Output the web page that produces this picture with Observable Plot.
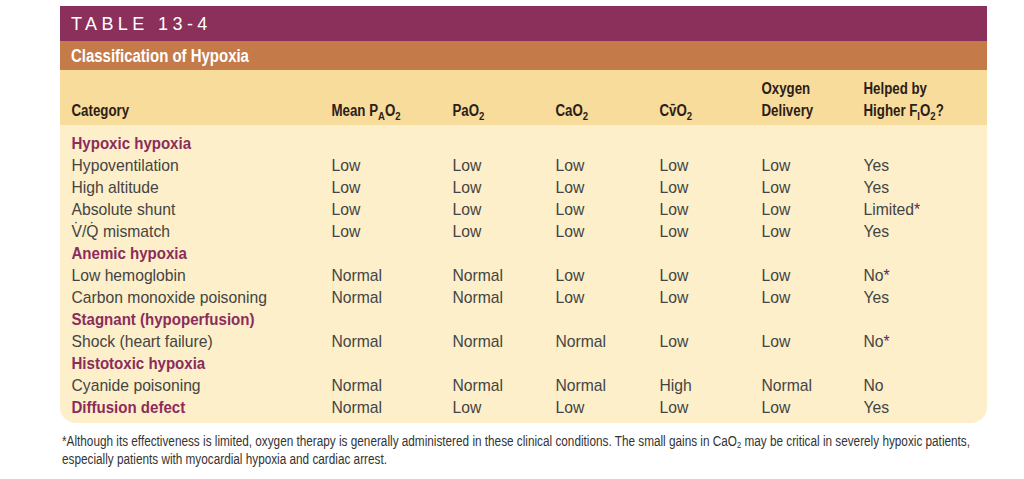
<!DOCTYPE html>
<html>
<head>
<meta charset="utf-8">
<script src="https://cdn.jsdelivr.net/npm/d3@7"></script>
<script src="https://cdn.jsdelivr.net/npm/@observablehq/plot@0.6"></script>
<style>
html,body{margin:0;padding:0;background:#fff;}
body{width:1024px;height:479px;position:relative;overflow:hidden;font-family:"Liberation Sans",Arial,sans-serif;}
.band{position:absolute;left:60px;width:927px;box-sizing:border-box;padding-left:11px;color:#fff;white-space:nowrap;}
#number{top:6px;height:35px;line-height:36px;background:#8b2f5b;font-size:18px;letter-spacing:4.4px;}
#title{top:41px;height:29px;line-height:30px;background:#c57a4a;font-weight:bold;font-size:17.5px;}
#title span{display:inline-block;transform:scaleX(0.855);transform-origin:0 50%;}
#chart{position:absolute;left:60px;top:70px;}
#note{position:absolute;left:62px;top:432px;font-size:14px;line-height:18px;color:#333;white-space:nowrap;}
#note span{display:inline-block;transform-origin:0 50%;}
#note sub{font-size:9px;vertical-align:-2px;line-height:0;}
</style>
</head>
<body>
<div id="number" class="band"></div>
<div id="title" class="band"><span></span></div>
<div id="chart"></div>
<div id="note"></div>
<script>
// ---------- data ----------
const tableNumber = "TABLE 13-4";
const tableTitle = "Classification of Hypoxia";
const columnLine1 = ["", "", "", "", "", "Oxygen", "Helped by"];
const columnLine2 = ["Category", "Mean P_AO_2", "PaO_2", "CaO_2", "Cv\u0304O_2", "Delivery", "Higher F_IO_2?"];
const categories = [
  "Hypoxic hypoxia", "Hypoventilation", "High altitude", "Absolute shunt", "V\u0307/Q\u0307 mismatch",
  "Anemic hypoxia", "Low hemoglobin", "Carbon monoxide poisoning",
  "Stagnant (hypoperfusion)", "Shock (heart failure)",
  "Histotoxic hypoxia", "Cyanide poisoning",
  "Diffusion defect"
];
const isGroupHeading = [true, false, false, false, false, true, false, false, true, false, true, false, true];
const meanPAO2      = ["", "Low", "Low", "Low", "Low", "", "Normal", "Normal", "", "Normal", "", "Normal", "Normal"];
const paO2          = ["", "Low", "Low", "Low", "Low", "", "Normal", "Normal", "", "Normal", "", "Normal", "Low"];
const caO2          = ["", "Low", "Low", "Low", "Low", "", "Low", "Low", "", "Normal", "", "Normal", "Low"];
const cvO2          = ["", "Low", "Low", "Low", "Low", "", "Low", "Low", "", "Low", "", "High", "Low"];
const oxygenDelivery= ["", "Low", "Low", "Low", "Low", "", "Low", "Low", "", "Low", "", "Normal", "Low"];
const helpedByFiO2  = ["", "Yes", "Yes", "Limited*", "Yes", "", "No*", "Yes", "", "No*", "", "No", "Yes"];
const footnote = [
  "*Although its effectiveness is limited, oxygen therapy is generally administered in these clinical conditions. The small gains in CaO_2 may be critical in severely hypoxic patients,",
  "especially patients with myocardial hypoxia and cardiac arrest."
];

// ---------- styles ----------
const FONT = '"Liberation Sans",Arial,sans-serif';
const PURPLE = "#8b2c5c";
const BODY = "#444";

// ---------- tables built from the arrays ----------
const valueSeries = [meanPAO2, paO2, caO2, cvO2, oxygenDelivery, helpedByFiO2];
const valueCells = valueSeries.flatMap((s, i) => s.map((v, r) => ({col: i + 1, row: r, value: v}))).filter(d => d.value);
const categoryCells = categories.map((c, r) => ({col: 0, row: r, value: c, group: isGroupHeading[r]}));
const headerCells = [
  ...columnLine1.map((t, i) => ({col: i, line: 0, text: t})),
  ...columnLine2.map((t, i) => ({col: i, line: 1, text: t}))
].filter(d => d.text);

const plot = Plot.plot({
  width: 927,
  height: 353,
  margin: 0,
  style: {
    background: "linear-gradient(to bottom, #f8dc9b 0px, #f8dc9b 55px, #fcefc9 55px)",
    borderRadius: "0 0 16px 16px"
  },
  x: {type: "linear", domain: [0, 1, 2, 3, 4, 5, 6], range: [11, 271, 392, 495, 599, 701, 803], axis: null},
  y: {type: "linear", domain: [0, 12], range: [73, 337], axis: null},
  marks: [
    Plot.text(headerCells, {
      x: "col", y: d => d.line - 2.5, text: "text", textAnchor: "start",
      fontSize: 16, fontWeight: "bold", fill: "#2a2018", fontFamily: FONT, className: "hdr"
    }),
    Plot.text(categoryCells.filter(d => d.group), {
      x: "col", y: "row", text: "value", textAnchor: "start",
      fontSize: 16, fontWeight: "bold", fill: PURPLE, fontFamily: FONT, className: "grp"
    }),
    Plot.text(categoryCells.filter(d => !d.group), {
      x: "col", y: "row", text: "value", textAnchor: "start",
      fontSize: 15.7, fill: BODY, fontFamily: FONT
    }),
    Plot.text(valueCells, {
      x: "col", y: "row", text: "value", textAnchor: "start",
      fontSize: 15.7, fill: BODY, fontFamily: FONT
    })
  ]
});

// subscripts (_X), dots above (X\u0307) and coloured asterisks inside SVG text
const NS = "http://www.w3.org/2000/svg";
const ADV = {V: 0.667, Q: 0.778};
function richify(el) {
  const s = el.textContent;
  if (!/[_*\u0307]/.test(s)) return;
  const g = el.closest("g");
  const fs = parseFloat((g && g.getAttribute("font-size")) || 15.7);
  el.textContent = "";
  const re = /_(\w)|\*|(\w)\u0307/g;
  let last = 0, m, dx = 0, dy = 0;
  const put = (txt, extra = {}) => {
    const t = document.createElementNS(NS, "tspan");
    const a = Object.assign({}, extra);
    if (dx) a.dx = dx.toFixed(2);
    if (dy) a.dy = dy.toFixed(2);
    dx = 0; dy = 0;
    for (const k in a) t.setAttribute(k, a[k]);
    t.textContent = txt;
    el.appendChild(t);
  };
  while ((m = re.exec(s))) {
    const before = s.slice(last, m.index);
    if (before) put(before);
    if (m[1]) {
      dy += 4; put(m[1], {"font-size": 11.5}); dy = -4;
    } else if (m[2]) {
      put(m[2]);
      const w = (ADV[m[2]] || 0.6) / 2, d = 0.1665;
      dx = -(w + d) * fs; dy = -3;
      put("\u02D9");
      dx = (w - d) * fs; dy = 3;
    } else {
      put("*", {fill: "#5a2a5e"});
    }
    last = re.lastIndex;
  }
  const rest = s.slice(last);
  if (rest) put(rest);
}
plot.querySelectorAll("text").forEach(richify);
document.getElementById("chart").appendChild(plot);

// horizontal condensing of bold text (no condensed face installed)
function condense(sel, k) {
  plot.querySelectorAll(sel + " text").forEach(el => {
    const w = el.getComputedTextLength();
    if (w > 0) {
      el.setAttribute("textLength", (w * k).toFixed(2));
      el.setAttribute("lengthAdjust", "spacingAndGlyphs");
    }
  });
}
condense(".hdr", 0.83);
condense(".grp", 0.94);

document.querySelector("#number").textContent = tableNumber;
document.querySelector("#title span").textContent = tableTitle;
const esc = s => s.replace(/&/g, "&amp;").replace(/</g, "&lt;");
const note = document.getElementById("note");
note.innerHTML = footnote.map(l => "<span>" + esc(l).replace(/_(\w)/g, "<sub>$1</sub>") + "</span>").join("<br>");
const spans = note.querySelectorAll("span");
const k = 908 / spans[0].getBoundingClientRect().width;
spans.forEach(s => s.style.transform = `scaleX(${k})`);
</script>
</body>
</html>
